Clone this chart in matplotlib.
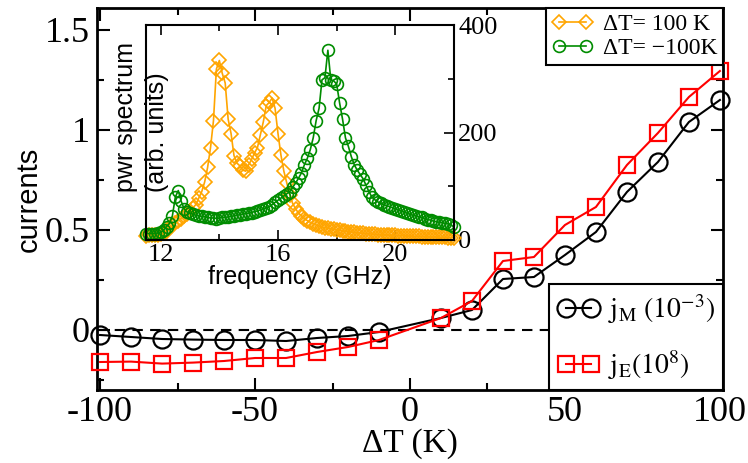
import matplotlib
matplotlib.use("Agg")
import matplotlib.pyplot as plt
from matplotlib.ticker import MultipleLocator, FixedLocator, FuncFormatter

# main panel: currents vs temperature difference
dT = [-100, -90, -80, -70, -60, -50, -40, -30, -20, -10,
      10, 20, 30, 40, 50, 60, 70, 80, 90, 100]
j_M = [-0.025, -0.035, -0.045, -0.048, -0.050, -0.050, -0.055, -0.040, -0.030, -0.010,
       0.060, 0.100, 0.255, 0.265, 0.375, 0.490, 0.690, 0.840, 1.040, 1.150]
j_E = [-0.160, -0.158, -0.168, -0.163, -0.155, -0.140, -0.140, -0.110, -0.085, -0.050,
       0.060, 0.145, 0.345, 0.365, 0.525, 0.615, 0.825, 0.985, 1.165, 1.295]

# inset: power spectrum for +100 K and -100 K
freq = [11.5 + 0.1 * i for i in range(106)]
pwr_plus = [8, 9, 9, 10, 10, 11, 13, 16, 22, 27,
            32, 36, 40, 44, 49, 54, 60, 66, 78, 90,
            108, 135, 172, 222, 318, 334, 310, 292, 225, 198,
            157, 143, 138, 130, 128, 140, 150, 162, 172, 196,
            220, 250, 256, 264, 245, 198, 158, 128, 106, 84,
            68, 58, 50, 45, 40, 36, 33, 30, 28, 26,
            24, 23, 22, 21, 20, 19, 18, 17, 16, 15.5,
            15, 14, 13.5, 13, 12.5, 12, 11.5, 11, 10.5, 10,
            9.8, 9.5, 9.2, 9, 8.7, 8.4, 8.2, 8, 7.7, 7.5,
            7.2, 7, 6.8, 6.6, 6.4, 6.2, 6, 5.8, 5.6, 5.4,
            5.2, 5, 4.8, 4.6, 4.4, 4.2]
pwr_minus = [12, 12, 12, 12, 13, 14, 18, 25, 31, 45,
             80, 92, 72, 58, 52, 50, 48, 46, 45, 44,
             43, 42, 41, 41, 40, 41, 42, 42, 43, 44,
             45, 46, 47, 48, 49, 50, 51, 53, 54, 56,
             58, 60, 62, 66, 70, 74, 78, 82, 86, 90,
             98, 106, 115, 125, 140, 152, 168, 190, 222, 245,
             298, 302, 353, 298, 296, 290, 255, 225, 190, 174,
             155, 140, 130, 122, 114, 102, 90, 80, 75, 71,
             68, 66, 64, 62, 60, 58, 56, 54, 52, 50,
             48, 46, 45, 43, 42, 40, 38, 37, 35, 34,
             33, 32, 31, 30, 28, 24]

plt.rcParams["font.family"] = ["Liberation Serif", "DejaVu Serif"]
plt.rcParams["mathtext.fontset"] = "stix"
plt.rcParams["axes.unicode_minus"] = False

fig = plt.figure(figsize=(7.48, 4.63), dpi=100)
ax = fig.add_axes([97 / 748, 73 / 463, 626 / 748, 382 / 463])

ax.axhline(0, color="black", lw=1.5, ls=(0, (5, 3.5)), zorder=1)
l_m, = ax.plot(dT, j_M, color="black", lw=1.5, marker="o", ms=13, mfc="none",
               mew=1.6, clip_on=False, zorder=3)
l_e, = ax.plot(dT, j_E, color="red", lw=1.5, marker="s", ms=12, mfc="none",
               mew=1.6, clip_on=False, zorder=3)

ax.set_xlim(-101, 101)
ax.set_ylim(-0.3, 1.61)
ax.xaxis.set_major_locator(MultipleLocator(50))
ax.xaxis.set_minor_locator(MultipleLocator(25))
ax.yaxis.set_major_locator(MultipleLocator(0.5))
ax.yaxis.set_minor_locator(MultipleLocator(0.25))
ax.yaxis.set_major_formatter(FuncFormatter(lambda v, p: "%g" % v))
ax.tick_params(which="both", direction="in", top=True, right=True, width=1.5)
ax.tick_params(which="major", length=9, labelsize=26)
ax.tick_params(which="minor", length=5)
ax.tick_params(axis="x", pad=4)
ax.tick_params(axis="y", pad=5)
for s in ax.spines.values():
    s.set_linewidth(2)

ax.set_xlabel("\u0394T (K)", fontsize=24, labelpad=0)
ax.set_ylabel("currents", fontsize=21, family=["Liberation Sans"], labelpad=2)

# inset
ins = fig.add_axes([146 / 748, 223 / 463, 308 / 748, 215 / 463])
l_p, = ins.plot(freq, pwr_plus, color="#ffa500", lw=1.2, marker="D", ms=7,
                mfc="none", mew=1.2, clip_on=False)
l_n, = ins.plot(freq, pwr_minus, color="#008c00", lw=1.2, marker="o", ms=8.5,
                mfc="none", mew=1.2, clip_on=False)
ins.set_xlim(11.5, 22)
ins.set_ylim(0, 400)
ins.xaxis.set_major_locator(FixedLocator([12, 16, 20]))
ins.xaxis.set_minor_locator(FixedLocator([14, 18]))
ins.yaxis.set_major_locator(MultipleLocator(200))
ins.yaxis.set_minor_locator(MultipleLocator(100))
ins.yaxis.tick_right()
ins.tick_params(which="both", direction="in", top=True, left=False, right=True, width=1.2)
ins.tick_params(which="major", length=7, labelsize=19)
ins.tick_params(which="minor", length=4)
ins.tick_params(axis="x", pad=3)
ins.tick_params(axis="y", pad=3)
for s in ins.spines.values():
    s.set_linewidth(1.5)
ins.set_xlabel("frequency (GHz)", fontsize=18, family=["Liberation Sans"], labelpad=-1)
ins.text(-0.015, 0.57, "pwr spectrum\n(arb. units)", transform=ins.transAxes,
         rotation=90, ha="center", va="center", fontsize=18,
         family=["Liberation Sans"], linespacing=1.4, multialignment="left")

leg1 = ax.legend([l_p, l_n], ["\u0394T= 100 K", "\u0394T= \u2212100K"],
                 loc="upper right", borderaxespad=0, fontsize=17, numpoints=2,
                 handlelength=1.75, handletextpad=0.4, borderpad=0.25,
                 labelspacing=0.1, fancybox=False, edgecolor="black", framealpha=1)
leg1.get_frame().set_linewidth(1.5)
leg1.set_zorder(10)
ax.add_artist(leg1)

leg2 = ax.legend([l_m, l_e], [r"$\mathrm{j_{M}\ (10^{-3})}$", r"$\mathrm{j_{E}(10^{8})}$"],
                 loc="lower right", borderaxespad=0, fontsize=20, numpoints=2,
                 handlelength=1.5, handletextpad=0.3, borderpad=0.3,
                 labelspacing=0.8, fancybox=False, edgecolor="black", framealpha=1)
leg2.get_frame().set_linewidth(1.5)
leg2.set_zorder(10)

fig.savefig("out.png", dpi=100)
